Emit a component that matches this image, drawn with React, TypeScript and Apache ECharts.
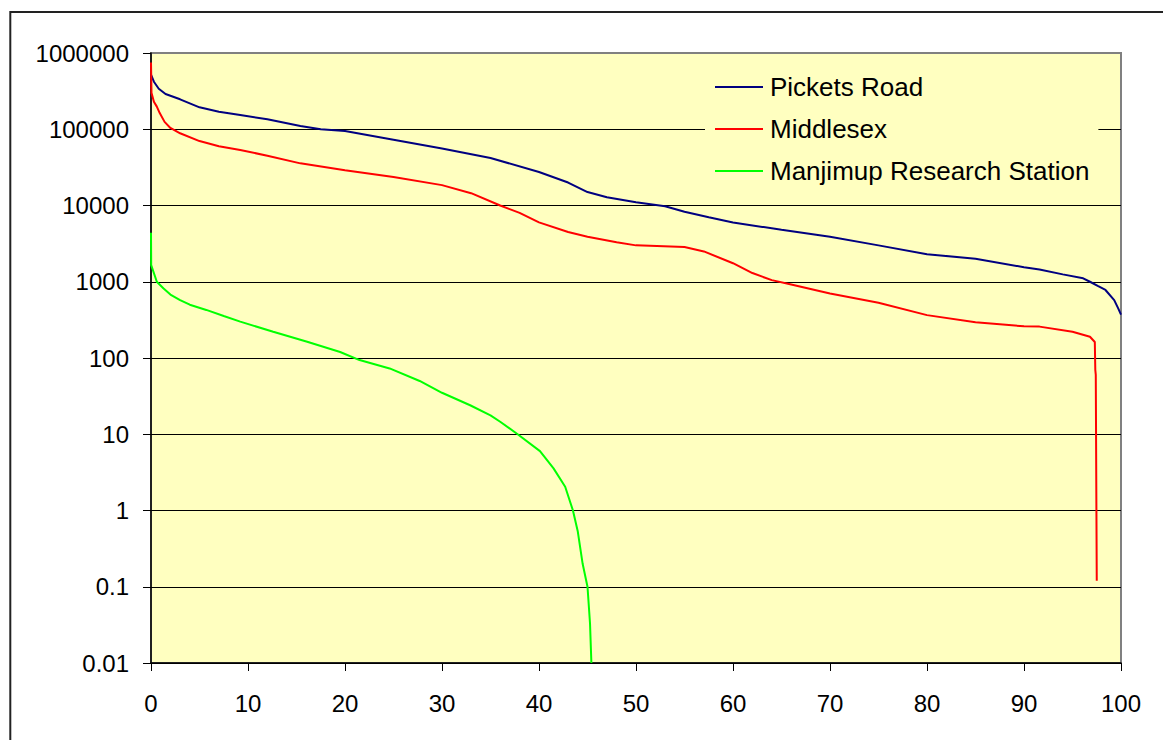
import React, { useEffect, useRef } from "react";
import * as echarts from "echarts";

const seriesNames = ["Pickets Road", "Middlesex", "Manjimup Research Station"];
const seriesColors = ["#000080", "#FF0000", "#00FF00"];

// [percent of time exceeded, value]
const picketsRoad: [number, number][] = [
  [0, 520000], [0.3, 420000], [0.8, 340000], [1.5, 290000], [3, 247000],
  [5, 194000], [7, 170000], [9.2, 154000], [12, 135000], [15.4, 110000],
  [17.5, 100000], [20, 95000], [25, 73000], [30, 56000], [35, 42000],
  [40, 27500], [43, 20000], [45, 15000], [47, 12800], [50, 11000],
  [53, 9800], [55, 8300], [57.5, 7000], [60, 6000], [65, 4800], [70, 3900],
  [75, 3000], [80, 2300], [85, 2000], [90, 1550], [91.6, 1450], [94, 1250],
  [96.1, 1110], [96.8, 1000], [97.6, 880], [98.4, 780], [99.3, 575],
  [99.7, 450], [100, 370],
];

const middlesex: [number, number][] = [
  [0, 750000], [0.05, 300000], [0.3, 230000], [0.6, 198000], [0.9, 163000],
  [1.4, 125000], [2, 104000], [3, 88500], [5, 70000], [7, 60000],
  [9.2, 53500], [12, 45000], [15.4, 35700], [20, 29000], [25, 23600],
  [30, 18500], [33, 14500], [36, 10000], [38, 8000], [40, 6000],
  [43, 4500], [45, 3900], [48, 3300], [50, 3000], [55, 2850], [57, 2500],
  [60, 1750], [62, 1300], [64, 1050], [66, 920], [70, 700], [75, 530],
  [80, 365], [85, 295], [90, 260], [91.6, 258], [95, 221], [96.8, 190],
  [97.3, 162], [97.35, 70], [97.4, 60], [97.5, 0.12],
];

const manjimup: [number, number][] = [
  [0, 4400], [0.02, 1650], [0.6, 1000], [1.27, 820], [2, 680], [3, 575],
  [4, 500], [5.7, 427], [7.5, 355], [9.2, 300], [12.6, 221], [16.1, 163],
  [19.5, 120], [21.5, 94], [24.6, 73], [27.7, 50], [30, 35], [32.9, 24],
  [35, 17.7], [36, 14.6], [37.8, 10], [40.1, 6.0], [41.5, 3.57],
  [42.7, 2.05], [43.5, 1.0], [44.0, 0.53], [44.5, 0.2], [45.0, 0.1],
  [45.26, 0.033], [45.4, 0.01],
];

const yTickLabels = ["0.01", "0.1", "1", "10", "100", "1000", "10000", "100000", "1000000"];
const xTickLabels = ["0", "10", "20", "30", "40", "50", "60", "70", "80", "90", "100"];

export default function App() {
  const ref = useRef<HTMLDivElement>(null);
  useEffect(() => {
    document.body.style.margin = "0";
    const chart = echarts.init(ref.current!, null, { renderer: "svg" });
    const font = "'Liberation Sans', Arial, sans-serif";
    const allData = [picketsRoad, middlesex, manjimup];
    chart.setOption({
      animation: false,
      backgroundColor: "#FFFFFF",
      textStyle: { fontFamily: font },
      grid: {
        left: 151,
        top: 53,
        width: 970,
        height: 610,
        show: true,
        backgroundColor: "#FFFFC0",
        borderColor: "#808080",
        borderWidth: 2,
      },
      xAxis: {
        type: "value",
        min: 0,
        max: 100,
        interval: 10,
        axisLine: { show: true, onZero: false, lineStyle: { color: "#000", width: 1.5 } },
        axisTick: { show: true, length: 8, lineStyle: { color: "#000" } },
        splitLine: { show: false },
        axisLabel: {
          color: "#000",
          fontSize: 24,
          fontFamily: font,
          margin: 28,
          formatter: (v: number) => xTickLabels[Math.round(v / 10)] ?? String(v),
        },
      },
      yAxis: {
        type: "log",
        logBase: 10,
        min: 0.01,
        max: 1000000,
        axisLine: { show: true, onZero: false, lineStyle: { color: "#000", width: 1.5 } },
        axisTick: { show: true, length: 8, lineStyle: { color: "#000" } },
        minorTick: { show: false },
        splitLine: {
          show: true,
          lineStyle: {
            color: ["#000", "#000", "#000", "#000", "#000", "#000", "#000", "#000", "#808080"],
            width: 1,
          },
        },
        axisLabel: {
          color: "#000",
          fontSize: 24,
          fontFamily: font,
          margin: 22,
          formatter: (v: number) => {
            const e = Math.round(Math.log10(v));
            return yTickLabels[e + 2] ?? String(v);
          },
        },
      },
      legend: {
        orient: "vertical",
        left: 705,
        top: 69,
        padding: [5, 9, 5, 10],
        backgroundColor: "#FFFFC0",
        itemWidth: 48,
        itemHeight: 2,
        itemGap: 16,
        icon: "rect",
        textStyle: { fontSize: 26, color: "#000", fontFamily: font, padding: [0, 0, 0, 2] },
        data: seriesNames,
      },
      graphic: [
        {
          type: "rect",
          shape: { x: 10.3, y: 12, width: 1200, height: 800 },
          style: { fill: "none", stroke: "#222", lineWidth: 2 },
          silent: true,
        },
      ],
      series: seriesNames.map((name, i) => ({
        name,
        type: "line",
        data: allData[i],
        showSymbol: false,
        symbol: "none",
        clip: true,
        lineStyle: { color: seriesColors[i], width: 2 },
        itemStyle: { color: seriesColors[i] },
      })),
    });
    return () => chart.dispose();
  }, []);
  return <div ref={ref} style={{ width: 1163, height: 740 }} />;
}
